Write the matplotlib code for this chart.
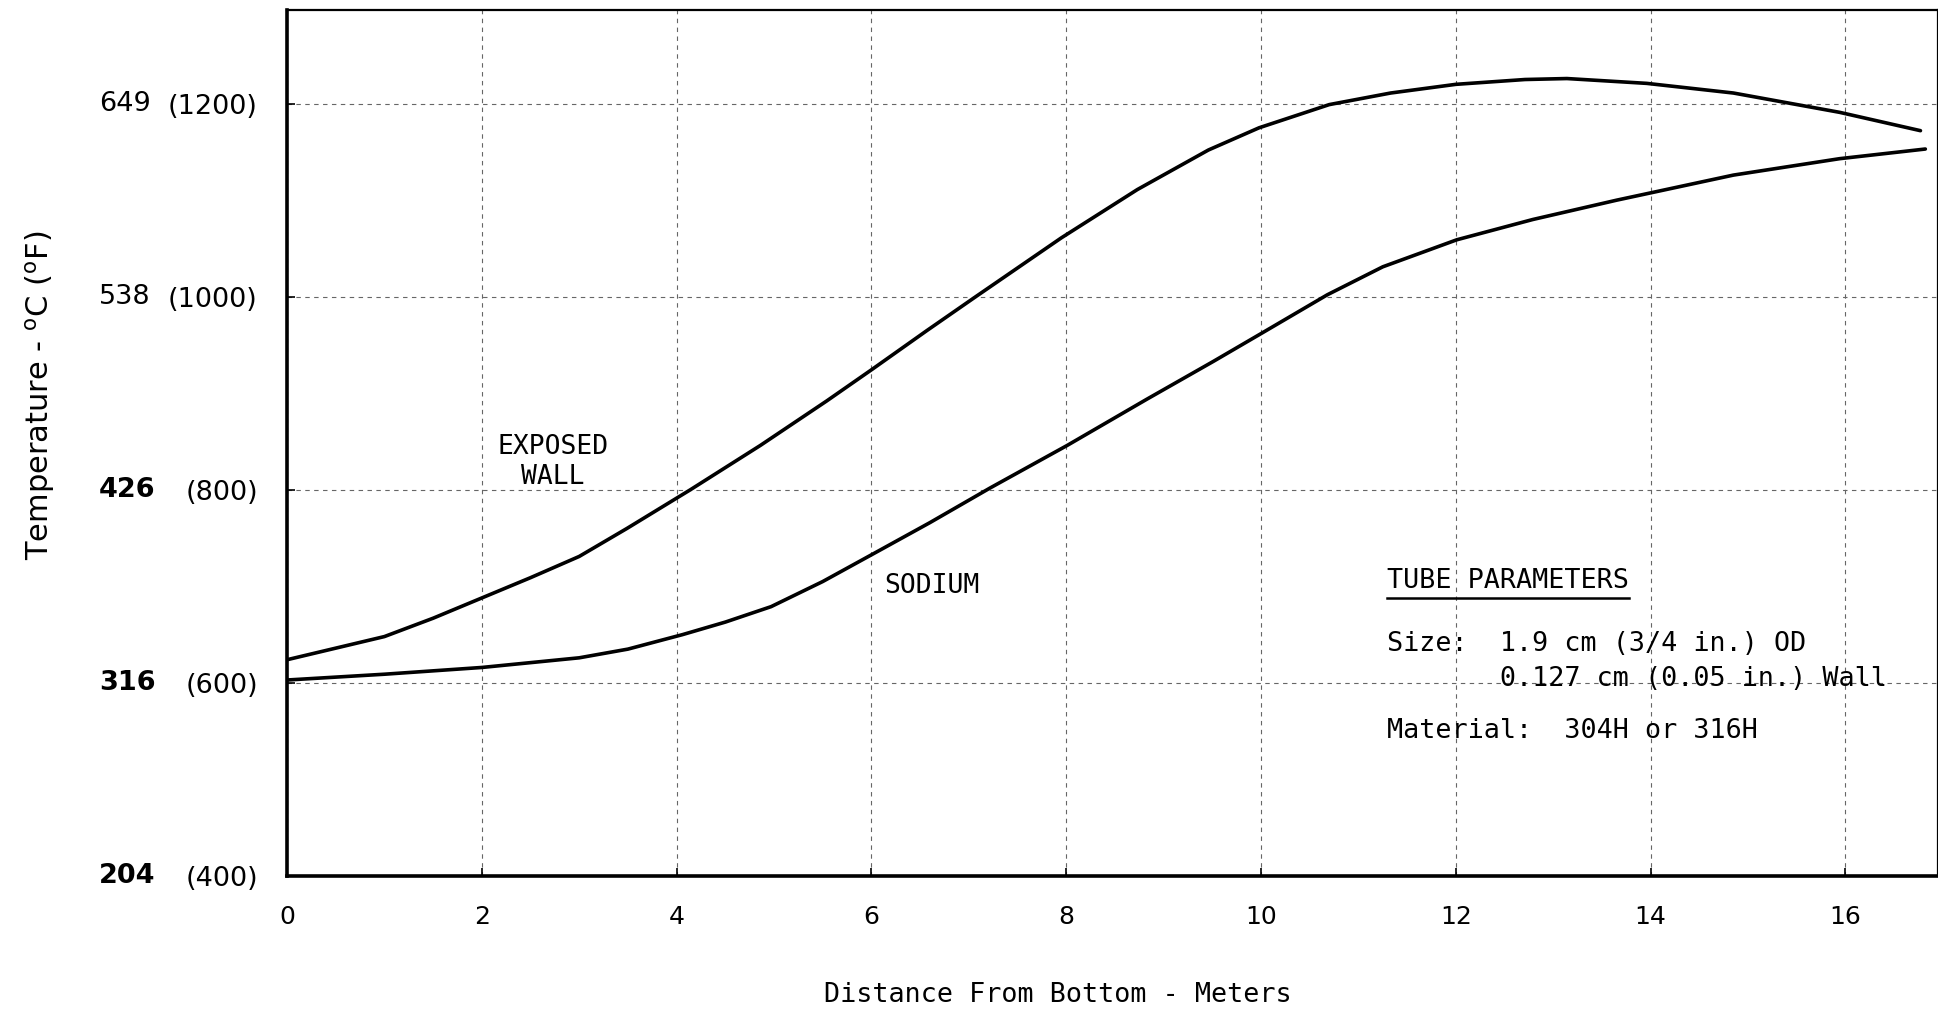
import matplotlib
matplotlib.use("Agg")
import matplotlib.pyplot as plt
from matplotlib.lines import Line2D

# ---- data ----
wall_x = [0, 1, 1.5, 2, 2.5, 3, 3.49, 4.14, 4.86, 5.54, 6.01, 6.57, 7.07, 7.95, 8.73, 9.46,
          9.98, 10.7, 11.33, 12.0, 12.71, 13.14, 13.96, 14.85, 15.94, 16.77]
wall_F = [624, 648, 667, 688, 709, 731, 760, 800, 846, 892, 925, 965, 1000, 1061, 1111, 1152,
          1175, 1199, 1211, 1220, 1225, 1226, 1221, 1211, 1191, 1172]

sodium_x = [0, 1, 2, 3, 3.5, 4.06, 4.5, 4.97, 5.5, 6.06, 6.6, 7.22, 8.01, 8.83, 9.51, 10.02,
            10.68, 11.25, 12.01, 12.79, 13.65, 14.85, 15.94, 16.82]
sodium_F = [603, 609, 616, 626, 635, 650, 663, 679, 705, 736, 766, 802, 846, 894, 933, 963,
            1002, 1031, 1059, 1080, 1100, 1126, 1143, 1153]

x_ticks = [0, 2, 4, 6, 8, 10, 12, 14, 16]
y_ticks_F = [400, 600, 800, 1000, 1200]
y_labels_F = ["(400)", "(600)", "(800)", "(1000)", "(1200)"]
y_labels_C = ["204", "316", "426", "538", "649"]
y_labels_C_bold = [True, True, True, False, False]

plt.rcParams['mathtext.fontset'] = 'dejavusans'

W, H = 1938, 1014
fig = plt.figure(figsize=(W / 100, H / 100), dpi=100)
ax = fig.add_axes([287 / W, 1 - 876 / H, (W - 287) / W, (876 - 10) / H])

ax.plot(wall_x, wall_F, color='black', lw=2.6, solid_capstyle='round', solid_joinstyle='round')
ax.plot(sodium_x, sodium_F, color='black', lw=2.6, solid_capstyle='round', solid_joinstyle='round')

ax.set_xlim(0, 16.95)
ax.set_ylim(400, 1297)

ax.set_xticks(x_ticks)
ax.set_xticklabels([str(t) for t in x_ticks], fontsize=18, family='DejaVu Sans')
ax.set_yticks(y_ticks_F)
ax.set_yticklabels(y_labels_F, fontsize=19.5, family='DejaVu Sans')
ax.tick_params(axis='both', direction='in', length=6, width=1.2, color='black')
ax.tick_params(axis='y', pad=21)
ax.tick_params(axis='x', pad=21)

ax.grid(True, color='0.4', linestyle=(0, (4, 4)), linewidth=0.8)
ax.set_axisbelow(True)

for side in ['left', 'bottom']:
    ax.spines[side].set_linewidth(2.6)
for side in ['top', 'right']:
    ax.spines[side].set_linewidth(1.6)

ytr = ax.get_yaxis_transform()
for yv, lab, b in zip(y_ticks_F, y_labels_C, y_labels_C_bold):
    ax.text(-0.1139, yv, lab, transform=ytr, ha='left', va='center', fontsize=19.5,
            family='DejaVu Sans', fontweight='bold' if b else 'normal')

mono = 'DejaVu Sans Mono'
ax.text(2.73, 829, "EXPOSED\nWALL", ha='center', va='center', fontsize=19,
        family=mono, linespacing=1.2)
ax.text(6.62, 700, "SODIUM", ha='center', va='center', fontsize=19, family=mono)

title_t = ax.text(11.29, 706, "TUBE PARAMETERS", ha='left', va='center', fontsize=19.3, family=mono)
ax.text(11.29, 640, "Size:  1.9 cm (3/4 in.) OD", ha='left', va='center', fontsize=19.3, family=mono)
ax.text(11.29, 604, "       0.127 cm (0.05 in.) Wall", ha='left', va='center', fontsize=19.3, family=mono)
ax.text(11.29, 550, "Material:  304H or 316H", ha='left', va='center', fontsize=19.3, family=mono)

fig.text(40 / W, 1 - 395 / H, r"Temperature - $^{\mathrm{o}}$C ($^{\mathrm{o}}$F)", rotation=90,
         ha='center', va='center', fontsize=22, family='DejaVu Sans')
fig.text(1058 / W, 1 - 995 / H, "Distance From Bottom - Meters", ha='center', va='center',
         fontsize=19.3, family=mono)

# underline for TUBE PARAMETERS
fig.canvas.draw()
bb = title_t.get_window_extent(renderer=fig.canvas.get_renderer())
uy = (bb.y0 - 4) / H
fig.add_artist(Line2D([bb.x0 / W, bb.x1 / W], [uy, uy], transform=fig.transFigure,
                      color='black', lw=1.8))

fig.savefig("out.png", dpi=100)
